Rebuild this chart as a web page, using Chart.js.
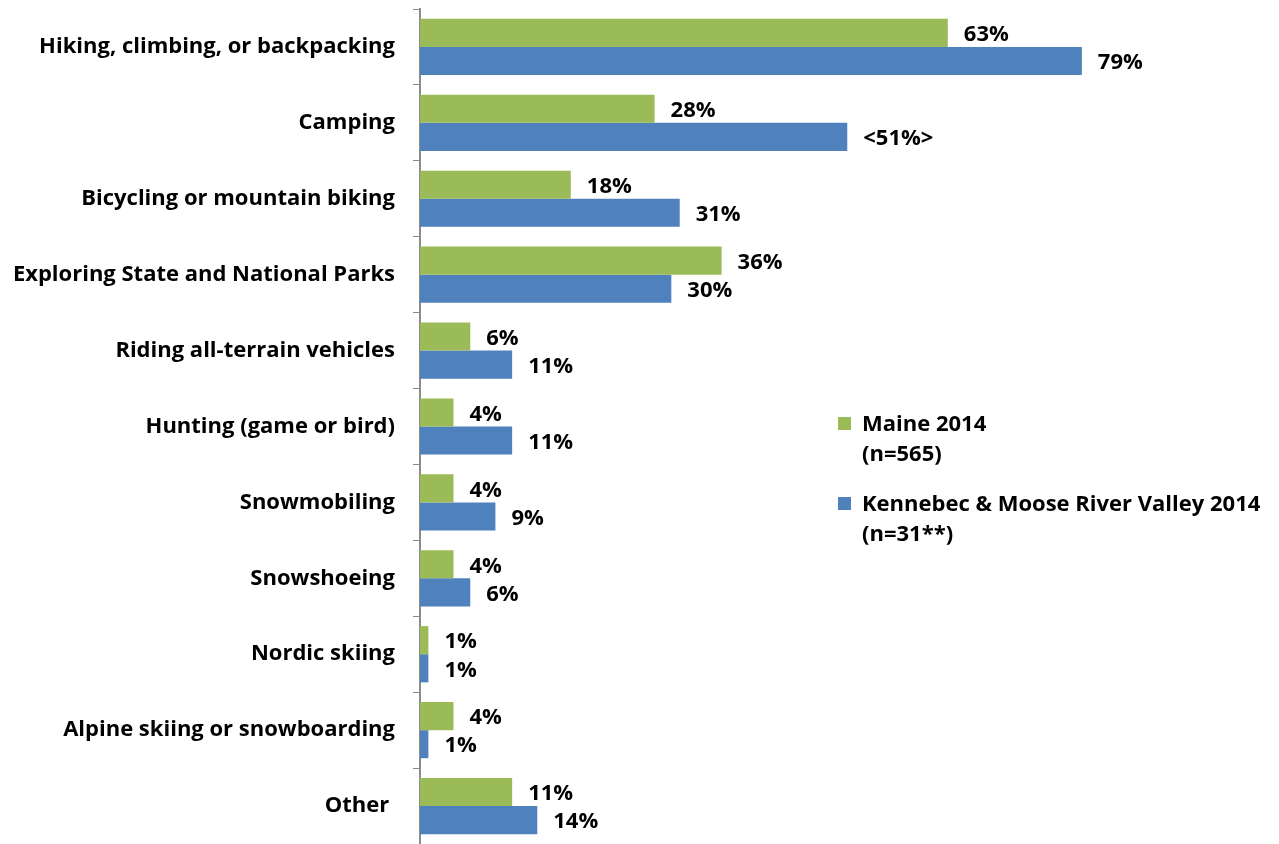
<!DOCTYPE html>
<html>
<head>
<meta charset="utf-8">
<script src="https://cdn.jsdelivr.net/npm/chart.js@4/dist/chart.umd.min.js"></script>
<style>
  html, body { margin: 0; padding: 0; background: #ffffff; }
  #wrap { position: relative; width: 1279px; height: 844px; }
</style>
</head>
<body>
<div id="wrap"><canvas id="chart" width="1279" height="844"></canvas></div>
<script>
// Activities (category axis, top to bottom)
const categories = [
  'Hiking, climbing, or backpacking',
  'Camping',
  'Bicycling or mountain biking',
  'Exploring State and National Parks',
  'Riding all-terrain vehicles',
  'Hunting (game or bird)',
  'Snowmobiling',
  'Snowshoeing',
  'Nordic skiing',
  'Alpine skiing or snowboarding',
  'Other '
];

// Share of visitors taking part, percent
const maine2014 = [63, 28, 18, 36, 6, 4, 4, 4, 1, 4, 11];
const kennebec2014 = [79, 51, 31, 30, 11, 11, 9, 6, 1, 1, 14];

// Series names, split over two lines in the legend
const seriesNames = [
  ['Maine 2014', '(n=565)'],
  ['Kennebec & Moose River Valley 2014', '(n=31**)']
];

// Values shown in angle brackets (significant difference)
const kennebecBracketed = ['Camping'];

const GREEN = '#9BBB59';
const BLUE = '#4F81BD';
const FONT = '"Open Sans", "Liberation Sans", sans-serif';
const FONT_SIZE = 22;

function pct(v) { return v + '%'; }
const maineText = maine2014.map(pct);
const kennebecText = kennebec2014.map((v, i) =>
  kennebecBracketed.includes(categories[i]) ? '<' + pct(v) + '>' : pct(v));
const valueText = [maineText, kennebecText];

// Percent labels at the end of each bar
const barValueLabels = {
  id: 'barValueLabels',
  afterDatasetsDraw(chart) {
    const ctx = chart.ctx;
    ctx.save();
    ctx.font = 'bold ' + FONT_SIZE + 'px ' + FONT;
    ctx.fillStyle = '#000';
    ctx.textAlign = 'left';
    ctx.textBaseline = 'middle';
    chart.data.datasets.forEach((ds, di) => {
      chart.getDatasetMeta(di).data.forEach((bar, i) => {
        ctx.fillText(valueText[di][i], bar.x + 16, bar.y + 2);
      });
    });
    ctx.restore();
  }
};

// Legend block placed inside the plot, right of the short bars
const sideLegend = {
  id: 'sideLegend',
  afterDraw(chart) {
    const ctx = chart.ctx;
    ctx.save();
    ctx.font = 'bold ' + FONT_SIZE + 'px ' + FONT;
    ctx.textAlign = 'left';
    ctx.textBaseline = 'middle';
    const x0 = 838, tx = 862;
    const tops = [425, 505];
    chart.data.datasets.forEach((ds, di) => {
      const y = tops[di];
      ctx.fillStyle = ds.backgroundColor;
      ctx.fillRect(x0, y - 8, 13, 13);
      ctx.fillStyle = '#000';
      seriesNames[di].forEach((line, li) => {
        ctx.fillText(line, tx, y + li * 30);
      });
    });
    ctx.restore();
  }
};

new Chart(document.getElementById('chart'), {
  type: 'bar',
  data: {
    labels: categories,
    datasets: [
      { label: seriesNames[0].join(' '), data: maine2014, backgroundColor: GREEN,
        categoryPercentage: 0.74, barPercentage: 1.0 },
      { label: seriesNames[1].join(' '), data: kennebec2014, backgroundColor: BLUE,
        categoryPercentage: 0.74, barPercentage: 1.0 }
    ]
  },
  options: {
    indexAxis: 'y',
    responsive: false,
    animation: false,
    layout: { padding: { top: 9, right: 105, bottom: 0, left: 0 } },
    plugins: {
      legend: { display: false },
      tooltip: { enabled: false }
    },
    scales: {
      x: {
        display: false,
        min: 0,
        max: 90
      },
      y: {
        afterFit(scale) {
          scale.width = 420;
          scale.paddingTop = 0;
          scale.paddingBottom = 0;
        },
        grid: {
          drawOnChartArea: false,
          drawTicks: true,
          tickLength: 7,
          color: '#8c8c8c',
          offset: true
        },
        border: { display: true, color: '#8c8c8c', width: 2 },
        ticks: {
          color: '#000',
          padding: 18,
          font: { family: FONT, size: FONT_SIZE, weight: 'bold' }
        }
      }
    }
  },
  plugins: [barValueLabels, sideLegend]
});
</script>
</body>
</html>
